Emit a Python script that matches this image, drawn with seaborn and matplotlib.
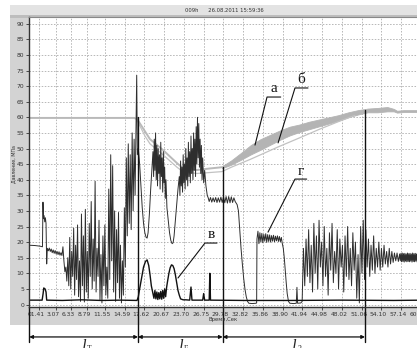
import numpy as np
import pandas as pd
import matplotlib
matplotlib.use("Agg")
import matplotlib.pyplot as plt
import seaborn as sns
from matplotlib.patches import Rectangle
from matplotlib.transforms import ScaledTranslation

sns.set_style("white")
plt.rcParams['font.family'] = ['DejaVu Sans']

# ---------------- texts ----------------
title_text = "009h      26.08.2011 15:59:36"
y_label = "Давление, МПа"
x_label = "Время,Сек"
x_tick_labels = ["01.41", "3.07", "6.33", "8.79", "11.55", "14.59", "17.62", "20.67",
                 "23.70", "26.75", "29.78", "32.82", "35.86", "38.90", "41.94", "44.98",
                 "48.02", "51.06", "54.10", "57.14", "60.18"]
x_tick_pos = [1.41, 4.0, 6.33, 8.79, 11.55, 14.59, 17.62, 20.67, 23.70, 26.75, 29.78,
              32.82, 35.86, 38.90, 41.94, 44.98, 48.02, 51.06, 54.10, 57.14, 60.18]
y_ticks = list(range(0, 95, 5))

# ---------------- series "г" (main dynamic pressure) ----------------
g_start = [(-0.12, 19.0), (0.8, 18.9), (1.57, 18.7), (1.95, 18.5), (2.03, 32.8), (2.10, 27.5),
           (2.2, 28.5), (2.3, 26.5), (2.4, 27.8), (2.5, 26.0), (2.6, 13.0), (2.7, 18.0),
           (2.85, 17.2), (3.0, 18.1), (3.15, 17.0), (3.3, 17.8), (3.45, 16.6), (3.6, 17.5),
           (3.75, 16.4), (3.9, 17.3), (4.05, 16.2), (4.2, 17.0), (4.35, 16.0), (4.5, 16.9),
           (4.65, 15.8), (4.8, 16.6), (4.95, 15.7)]
g_burst = [(5.1, 18.5), (5.25, 14.0), (5.4, 10.5), (5.55, 12.0), (5.7, 7.5), (5.85, 15.0),
           (6.0, 6.0), (6.15, 21.5), (6.3, 5.0), (6.45, 17.0), (6.6, 9.0), (6.75, 24.5),
           (6.9, 3.0), (7.05, 19.0), (7.2, 8.0), (7.35, 25.5), (7.5, 2.5), (7.65, 14.0),
           (7.8, 1.0), (7.95, 29.0), (8.1, 6.0), (8.25, 22.0), (8.4, 0.8), (8.55, 30.5),
           (8.7, 4.0), (8.85, 17.0), (9.0, 2.0), (9.15, 26.0), (9.3, 9.0), (9.45, 33.0),
           (9.6, 5.0), (9.75, 21.0), (9.9, 7.5), (10.05, 39.5), (10.2, 4.0), (10.35, 18.0),
           (10.5, 9.0), (10.65, 27.0), (10.8, 1.5), (10.95, 16.0), (11.1, 0.5), (11.25, 22.0),
           (11.4, 6.0), (11.55, 25.5), (11.7, 3.0), (11.85, 12.0), (12.0, 2.0), (12.15, 37.0),
           (12.3, 8.0), (12.45, 48.0), (12.6, 14.0), (12.75, 44.5), (12.9, 4.0), (13.05, 30.0),
           (13.2, 1.0), (13.35, 24.0), (13.5, 7.0), (13.65, 29.5), (13.8, 2.0), (13.95, 19.0),
           (14.1, 0.5), (14.25, 14.0), (14.4, 3.0), (14.55, 31.0), (14.7, 12.0), (14.85, 47.0),
           (15.0, 22.0), (15.15, 51.5), (15.3, 26.0), (15.45, 48.0), (15.6, 24.0), (15.75, 55.0),
           (15.9, 30.0), (16.05, 53.0), (16.2, 35.0), (16.35, 58.0), (16.45, 73.5), (16.55, 48.0)]
g_humps = [(16.7, 50.0), (16.9, 45.0), (17.1, 38.0), (17.3, 31.0), (17.5, 26.0), (17.7, 23.0),
           (17.9, 21.5), (18.05, 21.3), (18.2, 23.0), (18.4, 29.0), (18.6, 37.0), (18.8, 44.0),
           (18.95, 49.0), (19.05, 41.0), (19.15, 53.0), (19.25, 43.0), (19.35, 55.0), (19.45, 40.0),
           (19.55, 51.0), (19.65, 38.0), (19.75, 50.0), (19.85, 42.0), (19.95, 48.0), (20.05, 37.0),
           (20.15, 52.0), (20.25, 41.0), (20.35, 47.0), (20.45, 36.0), (20.55, 49.0), (20.65, 39.0),
           (20.75, 44.0), (20.85, 34.0), (20.95, 40.0), (21.1, 31.0), (21.3, 27.0), (21.5, 23.0),
           (21.7, 20.5), (21.9, 19.5), (22.05, 19.8), (22.2, 22.0), (22.4, 27.0), (22.6, 32.0),
           (22.8, 37.0), (23.0, 41.0), (23.1, 35.0), (23.2, 46.0), (23.3, 38.0), (23.4, 44.0),
           (23.5, 36.0), (23.6, 48.0), (23.7, 39.0), (23.8, 45.0), (23.9, 37.0), (24.0, 50.0),
           (24.1, 40.0), (24.2, 47.0), (24.3, 38.0), (24.4, 52.0), (24.5, 41.0), (24.6, 49.0),
           (24.7, 39.0), (24.8, 54.0), (24.9, 42.0), (25.0, 50.0), (25.1, 40.0), (25.2, 55.0),
           (25.3, 43.0), (25.4, 53.0), (25.5, 41.0), (25.6, 57.0), (25.7, 45.0), (25.8, 60.0),
           (25.9, 47.0), (26.0, 58.0), (26.1, 44.0), (26.2, 53.0), (26.3, 42.0), (26.4, 51.0),
           (26.5, 40.0), (26.6, 47.0), (26.75, 39.0), (26.9, 43.0), (27.1, 38.0), (27.3, 35.0),
           (27.45, 34.2)]
g_plateau = [(27.6, 33.0), (27.8, 34.3), (28.0, 32.8), (28.2, 34.2), (28.4, 32.9), (28.6, 34.3),
             (28.8, 32.7), (29.0, 34.2), (29.2, 32.8), (29.4, 34.4), (29.6, 32.7), (29.8, 34.5),
             (30.0, 32.6), (30.2, 34.6), (30.4, 32.5), (30.6, 34.6), (30.8, 32.6), (31.0, 34.5),
             (31.2, 32.7), (31.4, 34.2), (31.6, 33.0), (31.9, 32.0), (32.1, 30.0), (32.3, 24.0),
             (32.5, 18.0), (32.7, 13.0), (32.9, 8.5), (33.1, 5.0), (33.3, 2.5), (33.5, 1.0),
             (33.7, 0.4), (34.2, 0.3), (34.8, 0.4), (34.9, 0.5), (34.95, 21.0), (35.1, 23.5),
             (35.25, 19.5), (35.4, 23.0), (35.55, 20.0), (35.7, 22.8), (35.85, 19.8), (36.0, 22.5),
             (36.15, 20.3), (36.3, 22.7), (36.45, 19.9), (36.6, 22.4), (36.75, 20.2), (36.9, 22.3),
             (37.05, 20.0), (37.2, 22.1), (37.35, 20.3), (37.5, 22.2), (37.65, 20.1), (37.8, 21.9),
             (37.95, 20.4), (38.1, 22.0), (38.25, 20.2), (38.4, 21.8), (38.55, 20.1), (38.7, 21.5),
             (38.85, 19.5), (39.0, 18.0), (39.15, 15.0), (39.3, 11.0), (39.45, 7.0), (39.6, 3.5),
             (39.8, 1.0), (40.0, 0.4), (40.6, 0.3), (41.0, 0.4), (41.1, 5.5), (41.2, 0.4),
             (41.7, 0.5)]
g_tail = [(41.9, 1.0), (42.1, 18.0), (42.3, 6.0), (42.5, 21.0), (42.7, 9.0), (42.9, 24.0),
          (43.1, 7.0), (43.3, 19.0), (43.5, 4.0), (43.7, 26.0), (43.9, 10.0), (44.1, 22.0),
          (44.3, 5.0), (44.5, 27.0), (44.7, 12.0), (44.9, 20.0), (45.1, 6.0), (45.3, 25.0),
          (45.5, 9.0), (45.7, 18.0), (45.9, 3.0), (46.1, 23.0), (46.3, 11.0), (46.5, 26.0),
          (46.7, 7.0), (46.9, 17.0), (47.1, 10.0), (47.3, 24.0), (47.5, 5.0), (47.7, 21.0),
          (47.9, 12.0), (48.1, 19.0), (48.3, 4.0), (48.5, 22.0), (48.7, 9.0), (48.9, 25.0),
          (49.1, 8.0), (49.3, 18.0), (49.5, 6.0), (49.7, 23.0), (49.9, 11.0), (50.1, 20.0),
          (50.3, 2.0), (50.5, 16.0), (50.7, 0.5), (50.9, 25.0), (51.1, 10.0), (51.3, 27.0),
          (51.5, 8.0), (51.7, 24.0), (51.9, 12.0), (52.1, 21.0), (52.3, 9.0), (52.5, 19.0),
          (52.7, 11.0), (52.9, 22.0), (53.1, 10.0), (53.3, 18.0), (53.5, 12.0), (53.7, 20.0),
          (53.9, 11.0), (54.1, 18.0), (54.3, 12.0), (54.5, 19.0), (54.7, 13.0), (54.9, 17.0),
          (55.1, 12.0), (55.3, 18.0), (55.5, 13.0), (55.7, 17.0), (55.9, 13.5), (56.1, 16.5),
          (56.3, 14.0), (56.5, 16.5), (56.7, 13.8), (56.9, 16.2), (57.0, 14.0), (57.1, 16.4),
          (57.2, 13.7), (57.3, 16.5), (57.4, 13.8), (57.5, 16.3), (57.6, 13.6), (57.7, 16.4),
          (57.8, 13.9), (57.9, 16.2), (58.0, 13.7), (58.1, 16.5), (58.2, 13.8), (58.3, 16.3),
          (58.4, 13.7), (58.5, 16.4), (58.6, 13.9), (58.7, 16.2), (58.8, 13.6), (58.9, 16.5),
          (59.0, 13.8), (59.1, 16.3), (59.2, 13.7), (59.3, 16.4), (59.4, 13.9), (59.5, 16.2),
          (59.6, 13.6), (59.7, 16.4), (59.8, 13.8), (59.9, 16.3), (60.0, 13.7), (60.1, 16.5),
          (60.2, 13.8), (60.3, 16.3), (60.4, 13.9), (60.5, 16.2), (60.6, 13.7), (60.7, 16.4),
          (60.8, 14.0)]

# ---------------- series "в" (bottom line) ----------------
v_points = [(-0.12, 1.4), (1.9, 1.4), (2.05, 3.5), (2.15, 5.3), (2.35, 5.0), (2.5, 4.0),
            (2.6, 1.4), (5.0, 1.3), (8.0, 1.5), (11.0, 1.3), (14.0, 1.4), (16.5, 1.3),
            (16.7, 2.5), (16.9, 5.0), (17.2, 8.5), (17.5, 12.0), (17.8, 13.8), (18.05, 14.3),
            (18.3, 12.5), (18.5, 9.5), (18.7, 6.0), (18.95, 3.5), (19.1, 2.0), (19.25, 4.5),
            (19.4, 1.8), (19.55, 4.0), (19.7, 1.6), (19.85, 3.8), (20.0, 1.8), (20.15, 4.2),
            (20.3, 1.7), (20.45, 4.5), (20.6, 2.0), (20.75, 5.0), (20.9, 2.5), (21.05, 5.5),
            (21.2, 7.5), (21.4, 10.0), (21.6, 11.8), (21.8, 12.7), (22.0, 12.5), (22.2, 11.5),
            (22.4, 9.5), (22.6, 7.0), (22.8, 4.5), (23.0, 3.0), (23.2, 1.8), (23.6, 1.5),
            (24.0, 1.5), (24.6, 1.4), (24.8, 5.6), (24.95, 1.4), (26.6, 1.4), (26.75, 3.5),
            (26.9, 1.4), (27.6, 1.4), (27.7, 10.0), (27.8, 1.4), (33.0, 1.3), (40.0, 1.3),
            (48.0, 1.4), (56.0, 1.3), (60.8, 1.4)]

# ---------------- series "а" (light grey, thick) ----------------
a_line = [(-0.12, 59.8), (16.0, 59.8), (16.49, 59.5), (17.72, 55.5), (18.49, 53.0),
          (20.5, 49.5), (22.65, 45.3), (23.6, 43.6), (25.7, 43.1), (27.7, 43.6), (29.57, 44.0)]
a_band = [(29.57, 43.7, 44.3), (31.0, 44.8, 46.2), (32.5, 46.4, 48.6), (34.0, 48.1, 51.1),
          (35.5, 49.6, 53.0), (37.0, 51.2, 54.4), (38.5, 52.8, 55.8), (40.0, 54.2, 57.0),
          (41.5, 55.3, 57.7), (43.0, 56.2, 58.6), (44.5, 57.1, 59.3), (46.0, 58.0, 60.0),
          (47.5, 58.9, 60.7), (49.0, 60.0, 61.6), (50.5, 60.9, 62.3), (52.0, 61.6, 62.8),
          (53.5, 61.6, 63.0), (55.0, 61.9, 63.3), (56.0, 61.9, 62.7), (56.5, 61.5, 62.1),
          (57.5, 61.7, 62.3), (60.8, 61.7, 62.3)]

# ---------------- series "б" (light grey, thin) ----------------
b_line = [(16.49, 59.3), (17.0, 57.0), (17.72, 54.0), (18.49, 51.5), (20.5, 48.0),
          (22.65, 44.0), (23.6, 42.5), (25.7, 42.0), (27.7, 42.3), (29.57, 42.6),
          (31.0, 44.0), (33.9, 46.5), (38.2, 50.5), (41.6, 53.5), (44.6, 56.2),
          (47.7, 58.8), (50.0, 60.6)]

# ---------------- annotation labels ----------------
ann_letters = ["а", "б", "г", "в"]
ann_underline = [(36.5, 38.6, 66.5), (40.8, 42.8, 69.4), (40.8, 42.6, 40.2), (26.95, 28.8, 19.7)]
ann_target = [(34.65, 51.1), (38.2, 51.8), (36.65, 23.2), (22.8, 8.5)]

dim_bounds = [-0.08, 16.65, 29.68, 51.57]
dim_tops = [-0.8, 60.0, 44.0, 62.3]
dim_subs = ["Т", "Е", "З"]

# ---------------- figure ----------------
W, H = 417, 348
fig = plt.figure(figsize=(W / 100, H / 100), dpi=100)
fig.patch.set_facecolor("white")


def fx(p):
    return p / W


def fy(p):
    return 1 - p / H


fig.patches.append(Rectangle((fx(10), fy(325)), 1 - fx(10), fy(5) - fy(325),
                             transform=fig.transFigure, facecolor="#d3d3d3",
                             edgecolor="none", zorder=-3))
fig.patches.append(Rectangle((fx(10), fy(15)), 1 - fx(10), fy(5) - fy(15),
                             transform=fig.transFigure, facecolor="#e3e3e3",
                             edgecolor="none", zorder=-2))
fig.patches.append(Rectangle((fx(10), fy(18)), 1 - fx(10), fy(15) - fy(18),
                             transform=fig.transFigure, facecolor="#bdbdbd",
                             edgecolor="none", zorder=-2))

ax = fig.add_axes([fx(29), fy(307), (425 - 29) / W, (307 - 17) / H])
ax.set_facecolor("white")
ax.set_xlim(-0.12, 60.8)
ax.set_ylim(-0.8, 92.15)

# light series first
df_a = pd.DataFrame(a_line, columns=["t", "v"])
sns.lineplot(data=df_a, x="t", y="v", ax=ax, color="#b9b9b9", lw=1.4, sort=False, estimator=None)
df_ab = pd.DataFrame(a_band, columns=["t", "lo", "hi"])
ax.fill_between(df_ab["t"], df_ab["lo"], df_ab["hi"], color="#b4b4b4", lw=0.6, edgecolor="#b4b4b4")
df_b = pd.DataFrame(b_line, columns=["t", "v"])
sns.lineplot(data=df_b, x="t", y="v", ax=ax, color="#c2c2c2", lw=0.9, sort=False, estimator=None)

df_g = pd.DataFrame(g_start + g_burst + g_humps + g_plateau + g_tail, columns=["t", "v"])
sns.lineplot(data=df_g, x="t", y="v", ax=ax, color="#2e2e2e", lw=0.7, sort=False, estimator=None)

df_v = pd.DataFrame(v_points, columns=["t", "v"])
sns.lineplot(data=df_v, x="t", y="v", ax=ax, color="#111111", lw=1.0, sort=False, estimator=None)

# axes styling
ax.set_xticks(x_tick_pos)
ax.set_xticklabels(x_tick_labels)
ax.set_yticks(y_ticks)
ax.set_yticklabels([str(v) for v in y_ticks])
ax.set_xlabel("")
ax.set_ylabel("")
ax.grid(True, color="#a4a4a4", ls=(0, (2, 2)), lw=0.55)
ax.set_axisbelow(True)
ax.tick_params(axis="both", which="both", bottom=True, left=True, direction="out",
               length=2.5, width=0.6, labelsize=4.3, pad=1, colors="#333333")
for lab in ax.get_xticklabels():
    lab.set_transform(lab.get_transform() + ScaledTranslation(-0.03, 0, fig.dpi_scale_trans))
ax.spines["right"].set_visible(False)
for s in ["left", "bottom"]:
    ax.spines[s].set_color("#333333")
    ax.spines[s].set_linewidth(1.0)
ax.spines["top"].set_color("#888888")
ax.spines["top"].set_linewidth(0.8)

# letter annotations
for letter, (x1, x2, yu), (xt, yt) in zip(ann_letters, ann_underline, ann_target):
    ax.plot([x2, x1, xt], [yu, yu, yt], color="#111111", lw=0.8)
    ax.text((x1 + x2) / 2, yu + 0.5, letter, ha="center", va="bottom", fontsize=11,
            family="Liberation Serif", color="#111111")

# dimension lines below the plot
y_arrow = -10.4
y_low = -12.0
for xb, top in zip(dim_bounds, dim_tops):
    ax.plot([xb, xb], [top, y_low], color="#111111", lw=1.0, clip_on=False)
for i, sub in enumerate(dim_subs):
    x1, x2 = dim_bounds[i], dim_bounds[i + 1]
    ax.annotate("", xy=(x1, y_arrow), xytext=(x2, y_arrow),
                arrowprops=dict(arrowstyle="<|-|>", color="#111111", lw=0.9,
                                mutation_scale=5, shrinkA=0, shrinkB=0),
                annotation_clip=False)
    xm = (x1 + x2) / 2
    ax.text(xm, -11.0, "l", ha="center", va="top", fontsize=12, style="italic",
            family="Liberation Serif", clip_on=False)
    ax.annotate(sub, xy=(xm, -11.0), xytext=(2.5, -4.5), textcoords="offset points",
                ha="left", va="top", fontsize=5.5, family="Liberation Serif",
                annotation_clip=False)

# texts in the grey panel
fig.text(fx(224), fy(11), title_text, fontsize=3.8, ha="center", va="center", color="#333333")
fig.text(fx(13.5), fy(164), y_label, fontsize=3.4, rotation=90, ha="center", va="center", color="#333333")
fig.text(fx(223), fy(319.5), x_label, fontsize=3.8, ha="center", va="center", color="#333333")

fig.savefig("out.png", dpi=100)
